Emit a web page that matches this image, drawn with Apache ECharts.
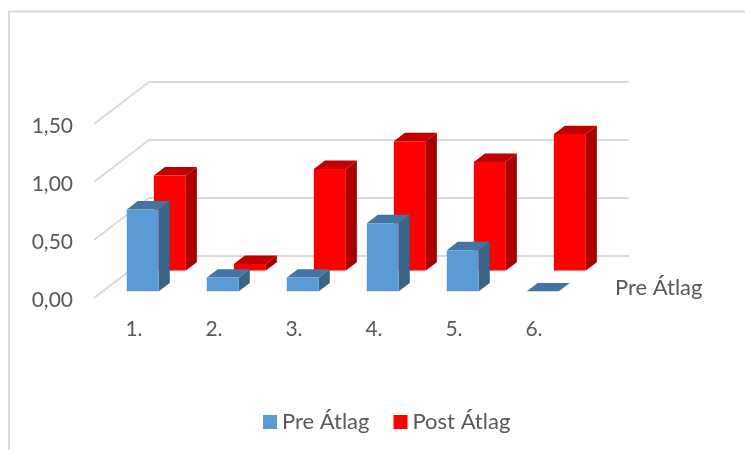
<!DOCTYPE html>
<html>
<head>
<meta charset="utf-8">
<style>html,body{margin:0;padding:0;background:#fff}#chart{width:745px;height:450px}</style>
<script src="https://cdn.jsdelivr.net/npm/echarts@6/dist/echarts.min.js"></script>
</head>
<body>
<div id="chart"></div>
<script>
// Survey averages per question, before and after
const categories = ['1.', '2.', '3.', '4.', '5.', '6.'];
const preValues = [0.705, 0.118, 0.118, 0.587, 0.354, 0];
const postValues = [0.82, 0.058, 0.877, 1.116, 0.937, 1.177];
const yTicks = [0, 0.5, 1, 1.5];
const preName = 'Pre Átlag';
const postName = 'Post Átlag';

// Oblique projection of the depth axis, in pixels
const DEPTH = [55, -42];
const BAR_DEPTH = 0.2;
const BAR_WIDTH = 0.4;
const FONT = 'Lato';
const FONT_SIZE = 21;
const TEXT = '#595959';

function project(p, t) {
  return [p[0] + DEPTH[0] * t, p[1] + DEPTH[1] * t];
}

// Box with front, side and top faces placed at a given depth along the floor
function barRenderer(depth, colors) {
  return function (params, api) {
    const i = api.value(0);
    const base = project(api.coord([i, 0]), depth);
    const top = project(api.coord([i, api.value(1)]), depth);
    const w = api.size([1, 0])[0] * BAR_WIDTH;
    const l = base[0] - w / 2, r = base[0] + w / 2;
    const dx = DEPTH[0] * BAR_DEPTH, dy = DEPTH[1] * BAR_DEPTH;
    const poly = (points, fill) => ({
      type: 'polygon',
      shape: { points },
      style: { fill }
    });
    return {
      type: 'group',
      children: [
        poly([[r, base[1]], [r + dx, base[1] + dy], [r + dx, top[1] + dy], [r, top[1]]], colors.side),
        poly([[l, top[1]], [l + dx, top[1] + dy], [r + dx, top[1] + dy], [r, top[1]]], colors.top),
        poly([[l, base[1]], [r, base[1]], [r, top[1]], [l, top[1]]], colors.front)
      ]
    };
  };
}

// Side wall and back wall gridlines for one tick value
function wallRenderer(params, api) {
  const v = api.value(0);
  const band = api.size([1, 0])[0];
  const first = api.coord([0, v]);
  const start = [first[0] - band / 2, first[1]];
  const back = project(start, 1);
  const end = [back[0] + band * categories.length, back[1]];
  return {
    type: 'polyline',
    shape: { points: [start, back, end] },
    style: { fill: null, stroke: '#D9D9D9', lineWidth: 2 }
  };
}

const chart = echarts.init(document.getElementById('chart'), null, { renderer: 'canvas' });
chart.setOption({
  animation: false,
  backgroundColor: '#fff',
  grid: { left: 94, top: 124, width: 480, height: 174 },
  xAxis: {
    type: 'category',
    data: categories,
    axisLine: { show: false },
    axisTick: { show: false },
    axisLabel: { color: TEXT, fontFamily: FONT, fontSize: FONT_SIZE, margin: 21 }
  },
  yAxis: {
    type: 'value',
    min: 0,
    max: 1.5,
    interval: 0.5,
    axisLine: { show: false },
    axisTick: { show: false },
    splitLine: { show: false },
    axisLabel: {
      color: TEXT,
      fontFamily: FONT,
      fontSize: FONT_SIZE,
      margin: 21,
      formatter: v => '{n|' + v.toFixed(2).replace('.', ',') + '}',
      rich: {
        n: { color: TEXT, fontFamily: FONT, fontSize: FONT_SIZE, padding: [4, 0, 0, 0] }
      }
    }
  },
  legend: {
    data: [preName, postName],
    left: 263,
    top: 411,
    padding: 0,
    icon: 'rect',
    itemWidth: 14,
    itemHeight: 14,
    itemGap: 24,
    textStyle: { color: TEXT, fontFamily: FONT, fontSize: FONT_SIZE + 1 }
  },
  series: [
    {
      type: 'custom',
      name: 'walls',
      silent: true,
      clip: false,
      z: 1,
      renderItem: wallRenderer,
      encode: { y: 0 },
      data: yTicks.map(v => [v])
    },
    {
      type: 'custom',
      name: postName,
      clip: false,
      z: 2,
      itemStyle: { color: '#FF0000' },
      renderItem: barRenderer(0.652, { front: '#FF0000', side: '#A60000', top: '#C00000' }),
      encode: { x: 0, y: 1 },
      data: postValues.map((v, i) => [i, v])
    },
    {
      type: 'custom',
      name: preName,
      clip: false,
      z: 3,
      itemStyle: { color: '#5B9BD5' },
      renderItem: barRenderer(0.16, { front: '#5B9BD5', side: '#3A6587', top: '#4276A2' }),
      encode: { x: 0, y: 1 },
      data: preValues.map((v, i) => [i, v])
    }
  ],
  graphic: [
    {
      type: 'polyline',
      silent: true,
      shape: { points: [[9, 450], [9, 11.5], [745, 11.5]] },
      style: { fill: null, stroke: '#D9D9D9', lineWidth: 2 }
    },
    {
      type: 'text',
      silent: true,
      x: 615,
      y: 288,
      style: { text: preName, fill: TEXT, font: (FONT_SIZE + 1) + 'px ' + FONT, textVerticalAlign: 'middle' }
    }
  ]
});
</script>
</body>
</html>
